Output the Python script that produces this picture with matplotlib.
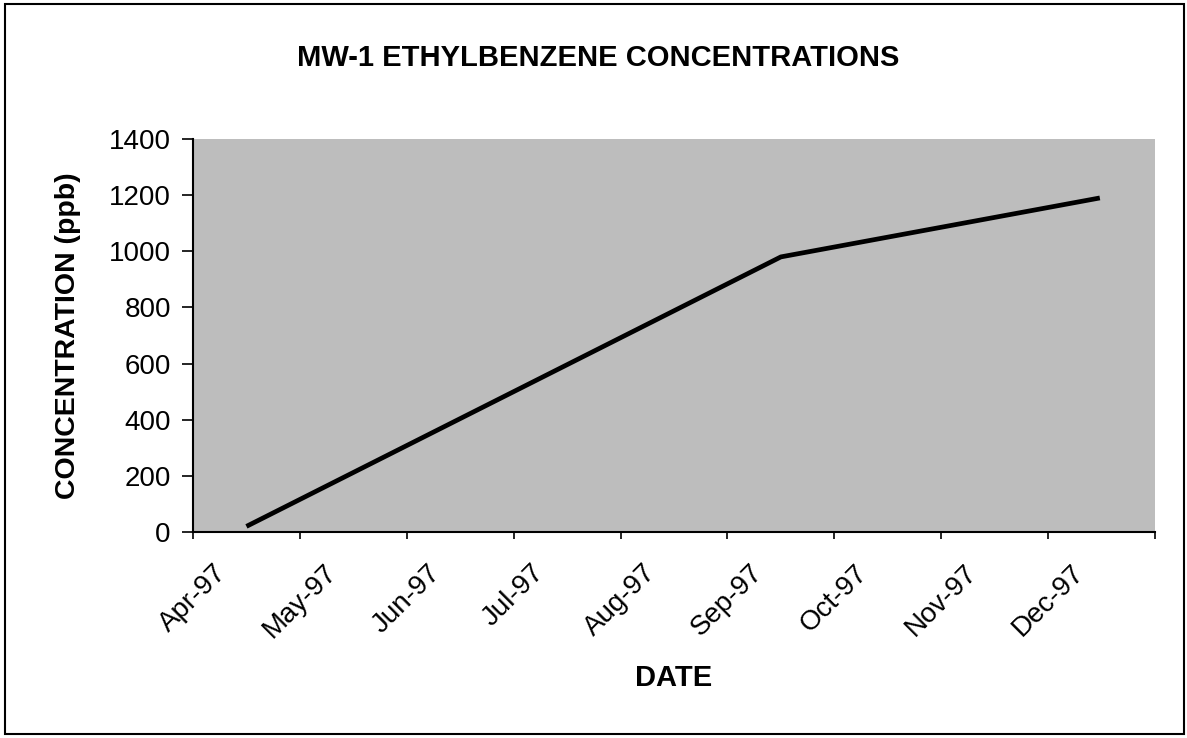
import matplotlib.pyplot as plt
from matplotlib.patches import Rectangle
import pandas as pd

# %% Data
sample_dates = ['1997-04-16', '1997-09-16', '1997-12-16']
concentration = [20, 980, 1190]
month_labels = ['Apr-97', 'May-97', 'Jun-97', 'Jul-97', 'Aug-97',
                'Sep-97', 'Oct-97', 'Nov-97', 'Dec-97']
y_ticks = [0, 200, 400, 600, 800, 1000, 1200, 1400]

# month axis: each month gets equal width, starting at Apr-97
fechas = pd.to_datetime(sample_dates)
x_vals = [(d.year - 1997) * 12 + d.month - 4 + (d.day - 1) / d.days_in_month
          for d in fechas]

plt.rcParams['font.family'] = ['Liberation Sans', 'DejaVu Sans']

fig = plt.figure(figsize=(11.87, 7.38), dpi=100)
ax = fig.add_axes([193 / 1187, 1 - 532 / 738, (1155 - 193) / 1187, (532 - 139) / 738])

ax.set_facecolor('#bdbdbd')
ax.plot(x_vals, concentration, color='black', linewidth=3.4, solid_capstyle='butt')

ax.set_xlim(0, len(month_labels))
ax.set_ylim(0, 1400)
ax.set_xticks(range(len(month_labels) + 1))
ax.set_xticklabels(month_labels + [''], rotation=45, ha='center', fontsize=20)
ax.set_yticks(y_ticks)
ax.set_yticklabels([str(v) for v in y_ticks], fontsize=20)
ax.tick_params(axis='x', direction='out', length=5, width=1.2, pad=15)
ax.tick_params(axis='y', direction='out', length=8, width=1.2, pad=8)

for lado in ['top', 'right']:
    ax.spines[lado].set_visible(False)
for lado in ['left', 'bottom']:
    ax.spines[lado].set_linewidth(1.5)

ax.set_xlabel('DATE', fontsize=21, fontweight='bold', labelpad=15)
ax.set_ylabel('CONCENTRATION (ppb)', fontsize=20.5, fontweight='bold', labelpad=20)

fig.text(598 / 1187, 1 - 58 / 738, 'MW-1 ETHYLBENZENE CONCENTRATIONS',
         fontsize=21, fontweight='bold', ha='center', va='center')

# borde exterior
fig.patches.append(Rectangle((5 / 1187, 4 / 738), 1179 / 1187, 730 / 738,
                             transform=fig.transFigure, fill=False,
                             edgecolor='black', linewidth=1.5))

fig.savefig('out.png', dpi=100)
